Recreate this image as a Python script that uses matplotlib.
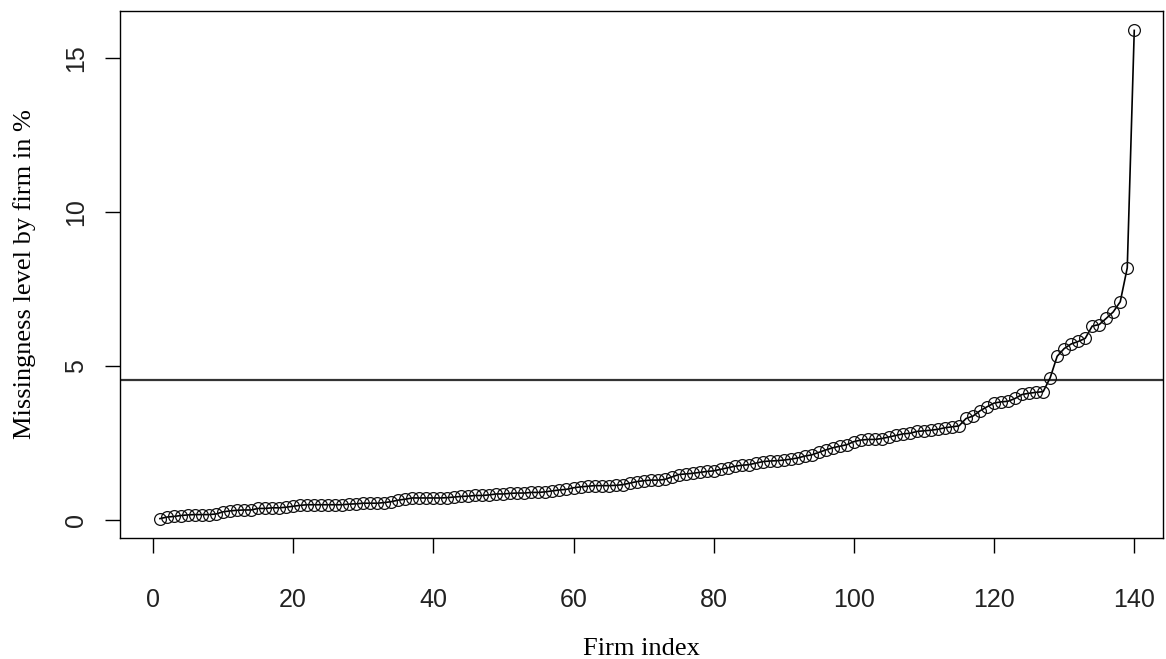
import matplotlib
matplotlib.use("Agg")
import matplotlib.pyplot as plt
import numpy as np

# ====== 資料(依圖讀值,已排序)======
firm_index = np.arange(1, 141)
missing_pct = [
    0.05, 0.10, 0.12, 0.15, 0.17, 0.18, 0.18, 0.18, 0.20, 0.27,
    0.30, 0.32, 0.33, 0.33, 0.38, 0.38, 0.40, 0.40, 0.42, 0.45,
    0.48, 0.50, 0.50, 0.50, 0.50, 0.50, 0.50, 0.52, 0.53, 0.55,
    0.55, 0.55, 0.57, 0.60, 0.65, 0.68, 0.72, 0.72, 0.72, 0.72,
    0.72, 0.73, 0.75, 0.77, 0.78, 0.80, 0.80, 0.82, 0.85, 0.85,
    0.87, 0.88, 0.88, 0.90, 0.90, 0.92, 0.95, 0.98, 1.00, 1.05,
    1.08, 1.10, 1.12, 1.12, 1.12, 1.13, 1.15, 1.20, 1.25, 1.28,
    1.30, 1.30, 1.32, 1.40, 1.48, 1.50, 1.52, 1.55, 1.58, 1.60,
    1.65, 1.70, 1.75, 1.78, 1.80, 1.85, 1.90, 1.92, 1.93, 1.95,
    1.98, 2.02, 2.08, 2.12, 2.20, 2.28, 2.35, 2.40, 2.45, 2.55,
    2.60, 2.62, 2.62, 2.65, 2.70, 2.75, 2.80, 2.82, 2.88, 2.90,
    2.92, 2.95, 3.00, 3.03, 3.06, 3.30, 3.38, 3.55, 3.68, 3.80,
    3.84, 3.86, 3.95, 4.08, 4.12, 4.15, 4.17, 4.62, 5.32, 5.57,
    5.72, 5.80, 5.90, 6.30, 6.35, 6.55, 6.76, 7.09, 8.19, 15.90,
]
threshold = 4.55

x_ticks = [0, 20, 40, 60, 80, 100, 120, 140]
y_ticks = [0, 5, 10, 15]

# ====== 畫圖 ======
fig = plt.figure(figsize=(11.66, 6.59), dpi=100)
ax = fig.add_axes([120 / 1166, 1 - 538 / 659, (1163 - 120) / 1166, (538 - 11) / 659])

ax.plot(firm_index, missing_pct, color="black", linewidth=1.2,
        marker="o", markersize=8.5, markerfacecolor="none",
        markeredgecolor="#111111", markeredgewidth=0.9, zorder=3)
ax.axhline(threshold, color="#333333", linewidth=1.6, zorder=2)

ax.set_xlim(-4.7, 144.1)
ax.set_ylim(-0.58, 16.53)
ax.set_xticks(x_ticks)
ax.set_yticks(y_ticks)

for s in ax.spines.values():
    s.set_linewidth(1.0)
    s.set_color("black")

ax.tick_params(axis="x", direction="out", length=11, width=1.0,
               pad=25, labelsize=18, colors="black")
ax.tick_params(axis="y", direction="out", length=11, width=1.0,
               pad=12, labelsize=18, colors="black")
for lab in ax.get_xticklabels() + ax.get_yticklabels():
    lab.set_family("Liberation Sans")
    lab.set_color("#222222")
for lab in ax.get_yticklabels():
    lab.set_rotation(90)
    lab.set_va("center")

ax.set_xlabel("Firm index", family="Liberation Serif", fontsize=19, labelpad=19)
ax.set_ylabel("Missingness level by firm in %", family="Liberation Serif",
              fontsize=19, labelpad=20)

fig.savefig("out.png", dpi=100, facecolor="white")
plt.close(fig)
